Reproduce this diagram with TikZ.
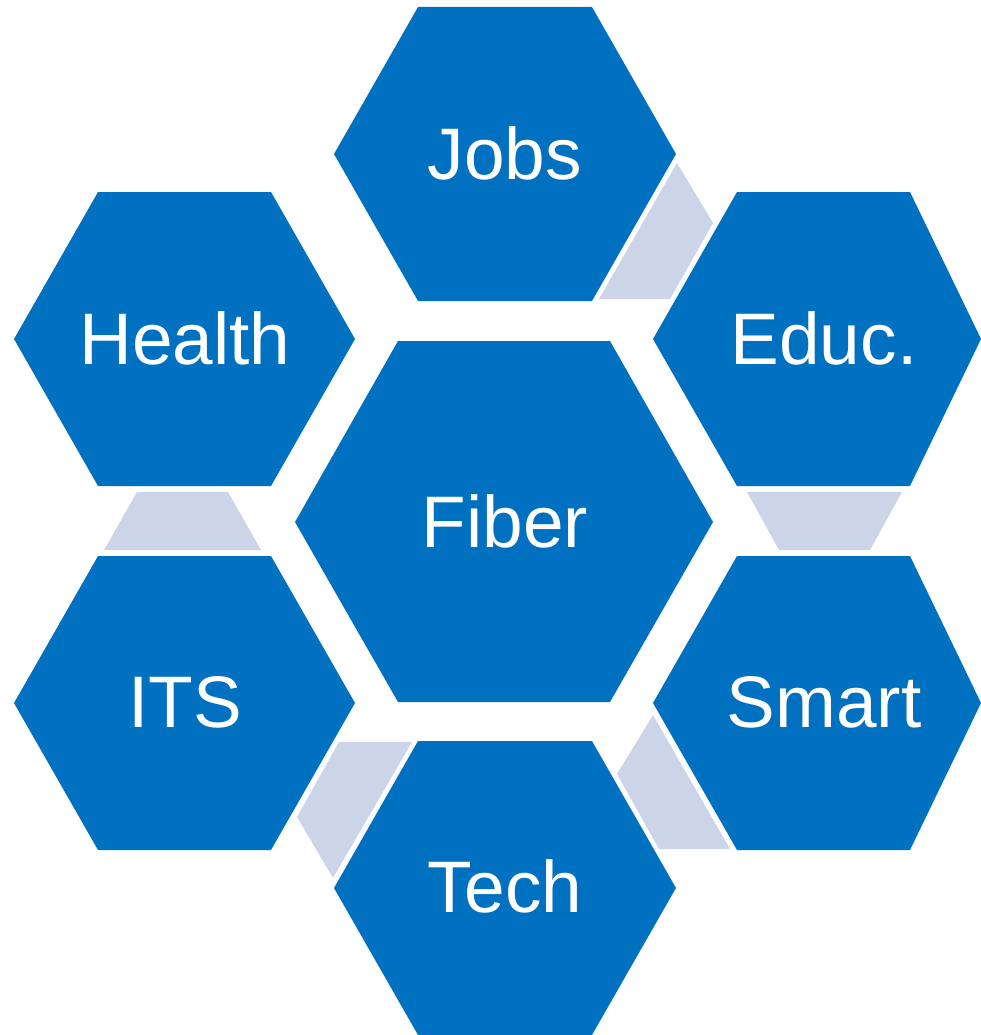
\documentclass[tikz,border=0pt]{standalone}
\usepackage{fontspec}
\setmainfont{Liberation Sans}
\definecolor{hexblue}{HTML}{0070C0}
\definecolor{linkgrey}{HTML}{CBD5E7}
\begin{document}
\begin{tikzpicture}[x=1pt,y=-1pt,
  hexfill/.style={fill=hexblue},
  linkfill/.style={fill=linkgrey},
  lbl/.style={anchor=base,text=white,inner sep=0pt,font=\fontsize{73}{80}\selectfont}]
\useasboundingbox (0,0) rectangle (981,1035);
% hexagons
\fill[hexblue] (295,522) -- (398,341) -- (610,341) -- (713,522) -- (610,702) -- (398,702) -- cycle;
\fill[hexblue] (334,154) -- (418,7) -- (592,7) -- (676,154) -- (592,301) -- (418,301) -- cycle;
\fill[hexblue] (14,339) -- (98,192) -- (271,192) -- (355,339) -- (271,486) -- (98,486) -- cycle;
\fill[hexblue] (653,339) -- (737,192) -- (910,192) -- (981,339) -- (910,486) -- (737,486) -- cycle;
\fill[hexblue] (14,703) -- (98,556) -- (271,556) -- (355,703) -- (271,850) -- (98,850) -- cycle;
\fill[hexblue] (653,703) -- (737,556) -- (910,556) -- (981,703) -- (910,850) -- (737,850) -- cycle;
\fill[hexblue] (334,888) -- (418,741) -- (592,741) -- (676,888) -- (592,1035) -- (418,1035) -- cycle;
% links
\fill[linkfill] (677,163) -- (713,223) -- (670,299) -- (599,299) -- cycle;
\fill[linkfill] (137,492) -- (228,492) -- (261,550) -- (104,550) -- cycle;
\fill[linkfill] (747,492) -- (902,492) -- (870,550) -- (779,550) -- cycle;
\fill[linkfill] (653,715) -- (730,849) -- (659,849) -- (617,774) -- cycle;
\fill[linkfill] (339,742) -- (412,742) -- (333,878) -- (297,817) -- cycle;
% labels
\node[lbl] (fiber) at (505,547) {Fiber};
\node[lbl] (jobs) at (505,179) {Jobs};
\node[lbl] (health) at (185,364) {Health};
\node[lbl] (educ) at (824,364) {Educ.};
\node[lbl] (its) at (185,727) {ITS};
\node[lbl] (smart) at (824,727) {Smart};
\node[lbl] (tech) at (505,912) {Tech};
\end{tikzpicture}
\end{document}
